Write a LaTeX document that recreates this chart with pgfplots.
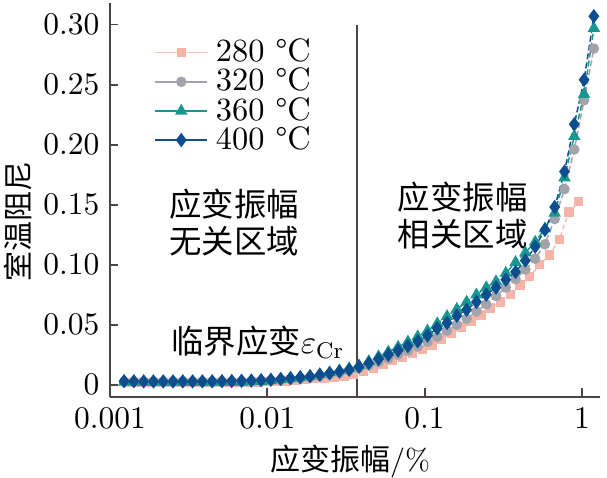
\documentclass[border=0pt]{standalone}
\usepackage{fontspec}
\usepackage{pgfplots}
\pgfplotsset{compat=1.18}
\usepackage{pgfplotstable}
\newfontfamily\cjk{Noto Sans CJK SC}
\definecolor{pinkc}{HTML}{F4B4A8}
\definecolor{greyc}{HTML}{A3A3AB}
\definecolor{tealc}{HTML}{1A9690}
\definecolor{navyc}{HTML}{0C4E8E}
\definecolor{axisc}{HTML}{4A4444}

\pgfplotstableread{
x y
0.001311 0.0020
0.001513 0.0020
0.001747 0.0020
0.002015 0.0020
0.002326 0.0020
0.002685 0.0020
0.003098 0.0020
0.003576 0.0020
0.004127 0.0020
0.004763 0.0020
0.005496 0.0020
0.006342 0.0020
0.007321 0.0020
0.008449 0.0022
0.009750 0.0025
0.01125 0.0028
0.01299 0.0032
0.01498 0.0037
0.01729 0.0043
0.01996 0.0050
0.02304 0.0056
0.02658 0.0062
0.03068 0.0070
0.03540 0.0085
0.04086 0.0108
0.04715 0.0138
0.05441 0.0170
0.06280 0.0202
0.07247 0.0232
0.08365 0.0262
0.09654 0.0292
0.1114 0.0330
0.1286 0.0380
0.1483 0.0430
0.1712 0.0480
0.1976 0.0530
0.2281 0.0580
0.2633 0.0640
0.3037 0.0690
0.3506 0.0750
0.4046 0.0830
0.4668 0.0900
0.5388 0.1000
0.6218 0.1080
0.7176 0.1210
0.8281 0.1440
0.9558 0.1525
}\dataA

\pgfplotstableread{
x y
0.001228 0.0025
0.001417 0.0025
0.001636 0.0025
0.001887 0.0025
0.002178 0.0025
0.002514 0.0025
0.002901 0.0025
0.003348 0.0025
0.003864 0.0025
0.004460 0.0025
0.005146 0.0025
0.005938 0.0025
0.006855 0.0025
0.007911 0.0028
0.009129 0.0031
0.010534 0.0035
0.01216 0.0040
0.01403 0.0046
0.01619 0.0053
0.01869 0.0062
0.02157 0.0073
0.02489 0.0086
0.02873 0.0100
0.03315 0.0118
0.03826 0.0138
0.04415 0.0162
0.05095 0.0188
0.05880 0.0218
0.06786 0.0250
0.07832 0.0282
0.09039 0.0318
0.1043 0.0358
0.1204 0.0400
0.1389 0.0450
0.1603 0.0500
0.1850 0.0550
0.2136 0.0610
0.2465 0.0670
0.2844 0.0740
0.3283 0.0810
0.3788 0.0880
0.4371 0.0960
0.5045 0.1050
0.5822 0.1170
0.6719 0.1380
0.7754 0.1630
0.8949 0.1960
1.033 0.2370
1.192 0.2800
}\dataB

\pgfplotstableread{
x y
0.001228 0.0022
0.001417 0.0022
0.001636 0.0022
0.001887 0.0022
0.002178 0.0022
0.002514 0.0022
0.002901 0.0022
0.003348 0.0022
0.003864 0.0022
0.004460 0.0022
0.005146 0.0022
0.005938 0.0022
0.006855 0.0023
0.007911 0.0026
0.009129 0.0030
0.010534 0.0036
0.01216 0.0045
0.01403 0.0053
0.01619 0.0062
0.01869 0.0073
0.02157 0.0087
0.02489 0.0102
0.02873 0.0118
0.03315 0.0136
0.03826 0.0160
0.04415 0.0195
0.05095 0.0235
0.05880 0.0275
0.06786 0.0315
0.07832 0.0358
0.09039 0.0402
0.1043 0.0450
0.1204 0.0510
0.1389 0.0570
0.1603 0.0630
0.1850 0.0690
0.2136 0.0750
0.2465 0.0810
0.2844 0.0860
0.3283 0.0930
0.3788 0.1020
0.4371 0.1100
0.5045 0.1190
0.5822 0.1300
0.6719 0.1430
0.7754 0.1725
0.8949 0.2070
1.033 0.2420
1.192 0.2970
}\dataC

\pgfplotstableread{
x y
0.001228 0.0030
0.001417 0.0029
0.001636 0.0028
0.001887 0.0028
0.002178 0.0028
0.002514 0.0028
0.002901 0.0028
0.003348 0.0028
0.003864 0.0028
0.004460 0.0029
0.005146 0.0030
0.005938 0.0031
0.006855 0.0033
0.007911 0.0035
0.009129 0.0038
0.010534 0.0042
0.01216 0.0048
0.01403 0.0055
0.01619 0.0062
0.01869 0.0070
0.02157 0.0083
0.02489 0.0096
0.02873 0.0110
0.03315 0.0125
0.03826 0.0150
0.04415 0.0180
0.05095 0.0215
0.05880 0.0250
0.06786 0.0285
0.07832 0.0322
0.09039 0.0362
0.1043 0.0410
0.1204 0.0470
0.1389 0.0515
0.1603 0.0575
0.1850 0.0625
0.2136 0.0690
0.2465 0.0750
0.2844 0.0810
0.3283 0.0875
0.3788 0.0940
0.4371 0.1035
0.5045 0.1150
0.5822 0.1290
0.6719 0.1480
0.7754 0.1775
0.8949 0.2170
1.033 0.2540
1.192 0.3070
}\dataD

\begin{document}
\begin{tikzpicture}
\useasboundingbox (-36.7pt,-27pt) rectangle (165.7pt,132.3pt);
\begin{axis}[
  at={(0,0)}, anchor=south west,
  scale only axis, width=163.3pt, height=131.3pt,
  xmode=log, xmin=0.001, xmax=1.30, ymin=-0.01, ymax=0.318,
  axis lines=left,
  axis line style={-, color=axisc, line width=0.6pt},
  tick align=inside, major tick length=2.8pt,
  tick style={color=axisc, line width=0.6pt},
  xminorticks=false,
  xtick={0.001,0.01,0.1,1}, xticklabels={0.001,0.01,0.1,1},
  ytick={0,0.05,0.10,0.15,0.20,0.25,0.30},
  yticklabels={0,0.05,0.10,0.15,0.20,0.25,0.30},
  tick label style={font=\fontsize{10.5}{12}\selectfont},
  xlabel={{\cjk 应变振幅}/\%},
  xlabel style={font=\fontsize{10}{12}\selectfont, at={(axis description cs:0.49,-0.165)}, anchor=center},
  ylabel={\cjk 室温阻尼},
  ylabel style={font=\fontsize{10}{12}\selectfont, at={(axis description cs:-0.188,0.444)}, anchor=center},
  legend style={draw=none, fill=none, at={(0.09,0.91)}, anchor=north west,
    font=\fontsize{10.8}{12}\selectfont, inner sep=0pt, row sep=0.6pt,
    nodes={inner sep=0pt},
    /tikz/every odd column/.append style={column sep=2.6pt}},
  legend cell align=left,
  legend image code/.code={\draw[mark repeat=2,mark phase=2,#1,solid] plot coordinates {(0pt,0pt) (8.6pt,0pt) (17.3pt,0pt)};},
  clip=false,
]
\addplot[color=axisc, line width=0.6pt, forget plot] coordinates {(0.037,-0.01) (0.037,0.30)};
\addplot[color=pinkc!85, line width=0.5pt, dash pattern=on 1.5pt off 1pt, mark=square*, mark size=1.3pt, mark options={solid, fill=pinkc, draw=pinkc}] table[x=x,y=y] {\dataA};
\addlegendentry{280~°C}
\addplot[color=greyc, line width=0.5pt, dash pattern=on 2pt off 1pt, mark=*, mark size=1.5pt, mark options={solid, fill=greyc, draw=greyc}] table[x=x,y=y] {\dataB};
\addlegendentry{320~°C}
\addplot[color=tealc, line width=0.5pt, dash pattern=on 2pt off 1pt, mark=triangle*, mark size=1.9pt, mark options={solid, fill=tealc, draw=tealc}] table[x=x,y=y] {\dataC};
\addlegendentry{360~°C}
\addplot[color=navyc, line width=0.5pt, dash pattern=on 2pt off 1pt, mark=diamond*, mark size=2.0pt, mark options={solid, fill=navyc, draw=navyc}] table[x=x,y=y] {\dataD};
\addlegendentry{400~°C}
\node[font=\fontsize{10.8}{12.3}\selectfont\cjk, align=center] at (axis cs:0.00616,0.135) {应变振幅\\无关区域};
\node[font=\fontsize{10.8}{12.3}\selectfont\cjk, align=center] at (axis cs:0.1746,0.141) {应变振幅\\相关区域};
\node[font=\fontsize{10.8}{12.3}\selectfont, anchor=east, inner sep=0pt] at (axis cs:0.0312,0.035) {{\cjk 临界应变}$\varepsilon_{\mathrm{Cr}}$};
\end{axis}
\end{tikzpicture}
\end{document}
